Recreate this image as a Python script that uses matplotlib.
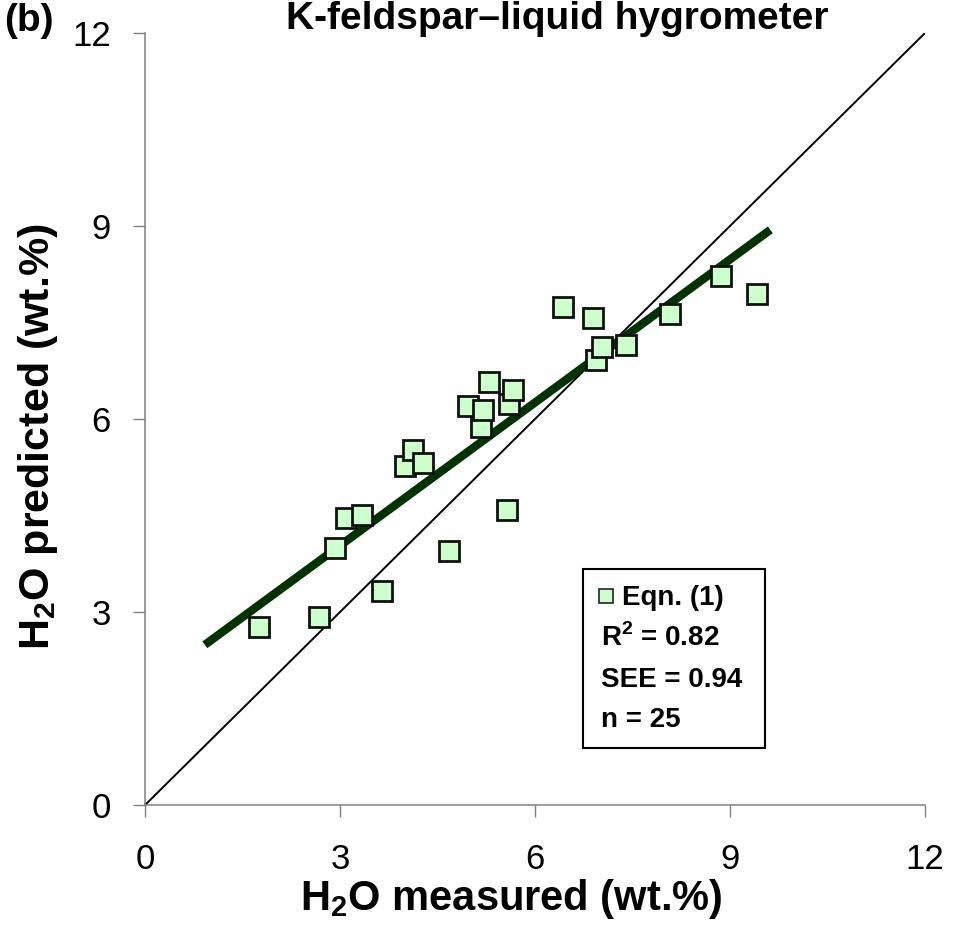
import matplotlib
matplotlib.use("Agg")
import matplotlib.pyplot as plt
from matplotlib.patches import Rectangle

plt.rcParams['font.family'] = ['Liberation Sans', 'DejaVu Sans']
plt.rcParams['mathtext.fontset'] = 'custom'
plt.rcParams['mathtext.rm'] = 'Liberation Sans'
plt.rcParams['mathtext.bf'] = 'Liberation Sans:bold'

# H2O medido vs predicho (ecuación 1), 25 muestras
h2o_medido = [1.75, 2.68, 2.93, 3.09, 3.34, 3.65, 4.00, 4.12, 4.28, 4.68,
              4.97, 5.17, 5.20, 5.29, 5.57, 5.60, 5.66, 6.43, 6.89, 6.94,
              7.03, 7.40, 8.08, 8.86, 9.42]
h2o_predicho = [2.77, 2.92, 4.00, 4.46, 4.51, 3.33, 5.27, 5.52, 5.32, 3.95,
                6.20, 5.88, 6.14, 6.58, 4.59, 6.23, 6.45, 7.74, 7.57, 6.92,
                7.12, 7.15, 7.63, 8.22, 7.94]

# recta de regresión y linea 1:1
reg_x = [0.92, 9.62]
reg_y = [2.49, 8.94]
uno_a_uno = [0, 12]

ticks = [0, 3, 6, 9, 12]
stats = ["R$^\\mathbf{2}$ = 0.82", "SEE = 0.94", "n = 25"]

fig = plt.figure(figsize=(9.56, 9.34), dpi=100)
ax = fig.add_axes([0.1517, 0.1381, 0.8159, 0.8266])

ax.plot(uno_a_uno, uno_a_uno, color='black', lw=1.4, zorder=2)
ax.plot(reg_x, reg_y, color='#003300', lw=6, solid_capstyle='butt', zorder=3)
ax.plot(h2o_medido, h2o_predicho, ls='none', marker='s', ms=14,
        mfc='#ccffcc', mec='#111111', mew=2, zorder=4)

ax.set_xlim(0, 12)
ax.set_ylim(0, 12)
ax.set_xticks(ticks)
ax.set_yticks(ticks)
ax.tick_params(axis='both', direction='out', length=8.5, width=1, color='#808080',
               labelsize=25)
ax.tick_params(axis='x', pad=19)
ax.tick_params(axis='y', pad=16)
for s in ['top', 'right']:
    ax.spines[s].set_visible(False)
for s in ['left', 'bottom']:
    ax.spines[s].set_color('#808080')
    ax.spines[s].set_linewidth(1.1)

fig.text(0.5345, 0.037, "H$_\\mathbf{2}$O measured (wt.%)", ha='center', va='center',
         fontsize=30, fontweight='bold')
fig.text(0.040, 0.532, "H$_\\mathbf{2}$O predicted (wt.%)", ha='center', va='center',
         rotation=90, fontsize=31, fontweight='bold')
fig.text(0.583, 0.980, "K-feldspar\u2013liquid hygrometer", ha='center', va='center',
         fontsize=28, fontweight='bold')
fig.text(0.004, 0.977, "(b)", ha='left', va='center', fontsize=28, fontweight='bold')

# cuadro de leyenda con estadísticos
ax.add_patch(Rectangle((0.5615, 0.0738), 0.2334, 0.2319, transform=ax.transAxes,
                       fill=False, ec='black', lw=1.5, zorder=5))
ax.plot([0.591], [0.2707], transform=ax.transAxes, marker='s', ms=10,
        mfc='#ccffcc', mec='#222222', mew=1.2, zorder=6, clip_on=False)
ax.text(0.612, 0.2591, "Eqn. (1)", transform=ax.transAxes, ha='left', va='baseline',
        fontsize=20, fontweight='bold', zorder=6)
for i, t in enumerate(stats):
    ax.text(0.584, 0.2060 - i * 0.0525, t, transform=ax.transAxes, ha='left',
            va='baseline', fontsize=20, fontweight='bold', zorder=6)

fig.savefig("out.png", dpi=100)
